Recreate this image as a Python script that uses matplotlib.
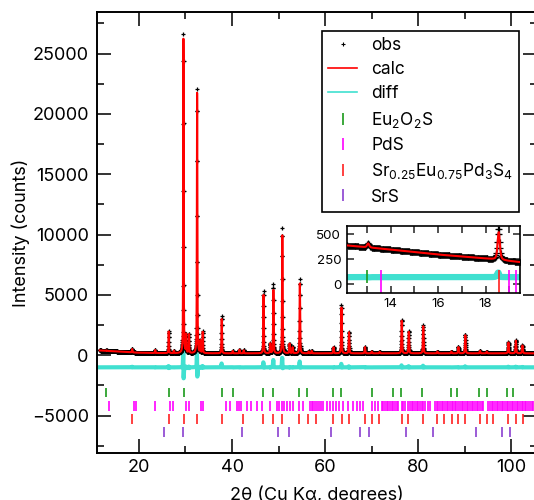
import numpy as np
import matplotlib
matplotlib.use('Agg')
import matplotlib.pyplot as plt
from matplotlib.lines import Line2D
from matplotlib.ticker import MultipleLocator

plt.rcParams['font.family'] = ['Inter', 'DejaVu Sans']
plt.rcParams['mathtext.default'] = 'regular'

# ---------------- data ----------------
peak_pos = [13.05, 18.55, 23.5, 26.4, 27.5, 29.56, 30.15, 30.75, 32.5, 33.2, 33.7,
            37.78, 40.15, 41.6, 42.5, 46.76, 48.2, 48.88, 50.8, 52.35, 53.0, 54.56,
            56.45, 57.1, 61.8, 63.5, 65.12, 68.55, 70.0, 71.7, 76.44, 77.96, 81.06,
            84.1, 87.1, 88.62, 90.1, 93.25, 94.7, 99.36, 100.96, 102.36]
peak_obs = [40, 320, 250, 1830, 200, 26450, 1500, 1550, 21850, 1000, 1800,
            3100, 200, 300, 250, 5150, 800, 5750, 10350, 800, 500, 6150,
            150, 200, 500, 4000, 1780, 520, 150, 120, 2800, 1830, 2330,
            150, 150, 530, 1550, 200, 150, 930, 1080, 670]
peak_calc = [40, 280, 250, 1800, 200, 26150, 1500, 1550, 21650, 1000, 1750,
             2850, 200, 300, 250, 4850, 800, 5250, 9800, 800, 500, 5800,
             150, 200, 500, 3800, 1750, 520, 150, 120, 2700, 1780, 2250,
             150, 150, 520, 1500, 200, 150, 900, 1050, 650]
bkg_tth = [11.6, 12.2, 14.0, 16.0, 18.0, 19.4, 22.0, 26.0, 30.0, 40.0, 60.0, 80.0, 106.0]
bkg_cnt = [400, 385, 345, 295, 255, 220, 195, 175, 165, 160, 160, 160, 160]

tick_eu2o2s = [13.0, 26.37, 29.59, 37.81, 40.17, 46.61, 48.76, 54.48, 56.2, 61.63,
               63.35, 70.0, 74.65, 76.22, 80.87, 86.95, 88.38, 93.1, 94.68, 98.97, 100.4]
tick_pds = [13.6, 19.0, 19.3, 23.5, 26.58, 27.3, 30.16, 30.66, 33.3, 33.73, 38.74, 39.46,
            41.17, 41.6, 42.03, 43.18, 44.03, 45.32, 46.39, 48.18, 49.61, 50.19, 50.69,
            51.19, 51.76, 52.48, 53.19, 54.48, 55.34, 56.77, 57.12, 57.48, 57.84, 58.2,
            58.77, 59.06, 59.63, 60.34, 61.06, 61.77, 62.35, 63.06, 63.78, 64.99, 66.07,
            66.78, 67.5, 68.21, 70.0, 70.72, 71.43, 72.15, 72.5, 72.86, 73.22, 73.6,
            73.93, 74.29, 74.65, 75.0, 75.36, 75.72, 76.44, 76.8, 77.15, 77.87, 78.2,
            78.58, 78.94, 79.3, 79.66, 80.01, 80.4, 80.73, 81.1, 81.44, 82.0, 82.52,
            83.59, 84.0, 84.31, 84.66, 85.0, 85.38, 85.74, 86.1, 86.45, 86.8, 87.17,
            87.5, 87.88, 88.2, 88.6, 88.96, 89.3, 89.67, 90.0, 90.39, 90.7, 91.1,
            91.5, 91.82, 92.2, 92.53, 92.9, 93.25, 93.6, 93.96, 95.04, 95.4, 95.75,
            96.1, 96.47, 96.82, 97.2, 97.54, 97.9, 98.2, 98.61, 99.0, 99.33, 99.7,
            100.04, 100.4, 100.74, 101.1, 101.46, 101.8, 102.18, 102.5, 102.9,
            103.2, 103.6, 104.0, 104.33, 104.7]
tick_srpds = [18.55, 26.37, 29.59, 32.45, 37.81, 42.46, 46.75, 48.9, 50.69, 54.48,
              56.41, 58.05, 61.77, 63.56, 65.14, 68.57, 70.0, 71.65, 76.44, 77.87,
              81.09, 84.09, 85.52, 87.17, 88.6, 90.03, 93.25, 94.68, 96.1, 99.33,
              100.96, 102.4]
tick_srs = [25.29, 29.37, 42.1, 49.97, 52.33, 61.2, 67.5, 69.5, 77.37, 83.09,
            92.39, 97.9, 99.7]

phase_names = ['Eu$_2$O$_2$S', 'PdS', 'Sr$_{0.25}$Eu$_{0.75}$Pd$_3$S$_4$', 'SrS']
phase_ticks = [tick_eu2o2s, tick_pds, tick_srpds, tick_srs]
phase_colors = ['#1a9a1a', '#ff00ff', '#ff2020', '#8a3fd0']
phase_rows = [-3100, -4200, -5290, -6360]
inset_tick_bottoms = [10, -90, -90, -90]

diff_offset_main = -1000
diff_offset_inset = 70
calc_shift = 0.004
step = 0.02

# ---------------- pattern model ----------------
tth = np.arange(11.6, 105.6, step)
bkg = np.interp(tth, bkg_tth, bkg_cnt)


def pv(x, x0, w, eta=0.5):
    d = (x - x0) / w
    return eta / (1 + 4 * d ** 2) + (1 - eta) * np.exp(-4 * np.log(2) * d ** 2)


obs = bkg.copy()
calc = bkg.copy()
for p, ho, hc in zip(peak_pos, peak_obs, peak_calc):
    w = 0.095 + 0.0009 * p
    obs += ho * pv(tth, p, w)
    calc += hc * pv(tth, p + calc_shift, w)
diff = obs - calc

# ---------------- figure ----------------
fig = plt.figure(figsize=(5.34, 5.0), dpi=100)
ax = fig.add_axes([97 / 534, 47 / 500, 440 / 534, 441 / 500])

ax.plot(tth, obs, ls='none', marker='+', ms=3.5, mew=0.9, color='black', zorder=3)
ax.plot(tth, calc, color='red', lw=1.5, zorder=4)
ax.plot(tth, diff + diff_offset_main, color='#40e0d0', lw=3, zorder=2)
for ticks, c, row in zip(phase_ticks, phase_colors, phase_rows):
    ax.vlines(ticks, row - 390, row + 390, colors=c, lw=1.2, zorder=2)

ax.set_xlim(11.0, 105.5)
ax.set_ylim(-8100, 28450)
ax.xaxis.set_major_locator(MultipleLocator(20))
ax.xaxis.set_minor_locator(MultipleLocator(10))
ax.yaxis.set_major_locator(MultipleLocator(5000))
ax.yaxis.set_minor_locator(MultipleLocator(2500))
ax.tick_params(which='both', direction='in', top=True, right=True, color='#333333')
ax.tick_params(which='major', length=10, width=1.4, labelsize=13)
ax.tick_params(which='minor', length=5, width=1.4)
ax.tick_params(axis='y', pad=6)
ax.tick_params(axis='x', pad=4)
for s in ax.spines.values():
    s.set_linewidth(1.4)

ax.set_ylabel('Intensity (counts)', fontsize=13)
ax.yaxis.set_label_coords(-0.152, 0.5)
ax.set_xlabel('2θ (Cu Kα, degrees)', fontsize=13, va='top')
ax.xaxis.set_label_coords(0.5, -0.073)

# legend
handles = [Line2D([], [], ls='none', marker='+', ms=3, mew=0.8, color='black'),
           Line2D([], [], color='red', lw=1.2),
           Line2D([], [], color='#40e0d0', lw=1.2)]
for c in phase_colors:
    handles.append(Line2D([], [], ls='none', marker='|', ms=8, mew=1.2, color=c))
labels = ['obs', 'calc', 'diff'] + phase_names
leg = ax.legend(handles, labels, loc='upper right',
                bbox_to_anchor=(519 / 534, 1 - 30.7 / 500),
                bbox_transform=fig.transFigure, borderaxespad=0,
                fontsize=12.5, frameon=True, fancybox=False, framealpha=1,
                edgecolor='black', handlelength=1.7, handletextpad=0.8,
                labelspacing=0.42, borderpad=0.35)
leg.get_frame().set_linewidth(1.2)

# inset
ins = fig.add_axes([346.7 / 534, 1 - 292.7 / 500, 173.3 / 534, 66.7 / 500])
ins.plot(tth, obs, ls='none', marker='+', ms=4, mew=0.9, color='black', zorder=3)
ins.plot(tth, calc, color='red', lw=1.5, zorder=4)
ins.plot(tth, diff + diff_offset_inset, color='#40e0d0', lw=4.5, zorder=2)
for ticks, c, b in zip(phase_ticks, phase_colors, inset_tick_bottoms):
    ins.vlines(ticks, b, 140, colors=c, lw=1.2, zorder=2)
ins.set_xlim(12.15, 19.45)
ins.set_ylim(-85, 580)
ins.xaxis.set_major_locator(MultipleLocator(2))
ins.xaxis.set_minor_locator(MultipleLocator(1))
ins.yaxis.set_major_locator(MultipleLocator(250))
ins.tick_params(which='both', direction='in', top=True, right=True, color='#333333',
                length=5, width=1.2, labelsize=9.6, pad=4)
for s in ins.spines.values():
    s.set_linewidth(1.2)

fig.savefig('out.png', dpi=100)
